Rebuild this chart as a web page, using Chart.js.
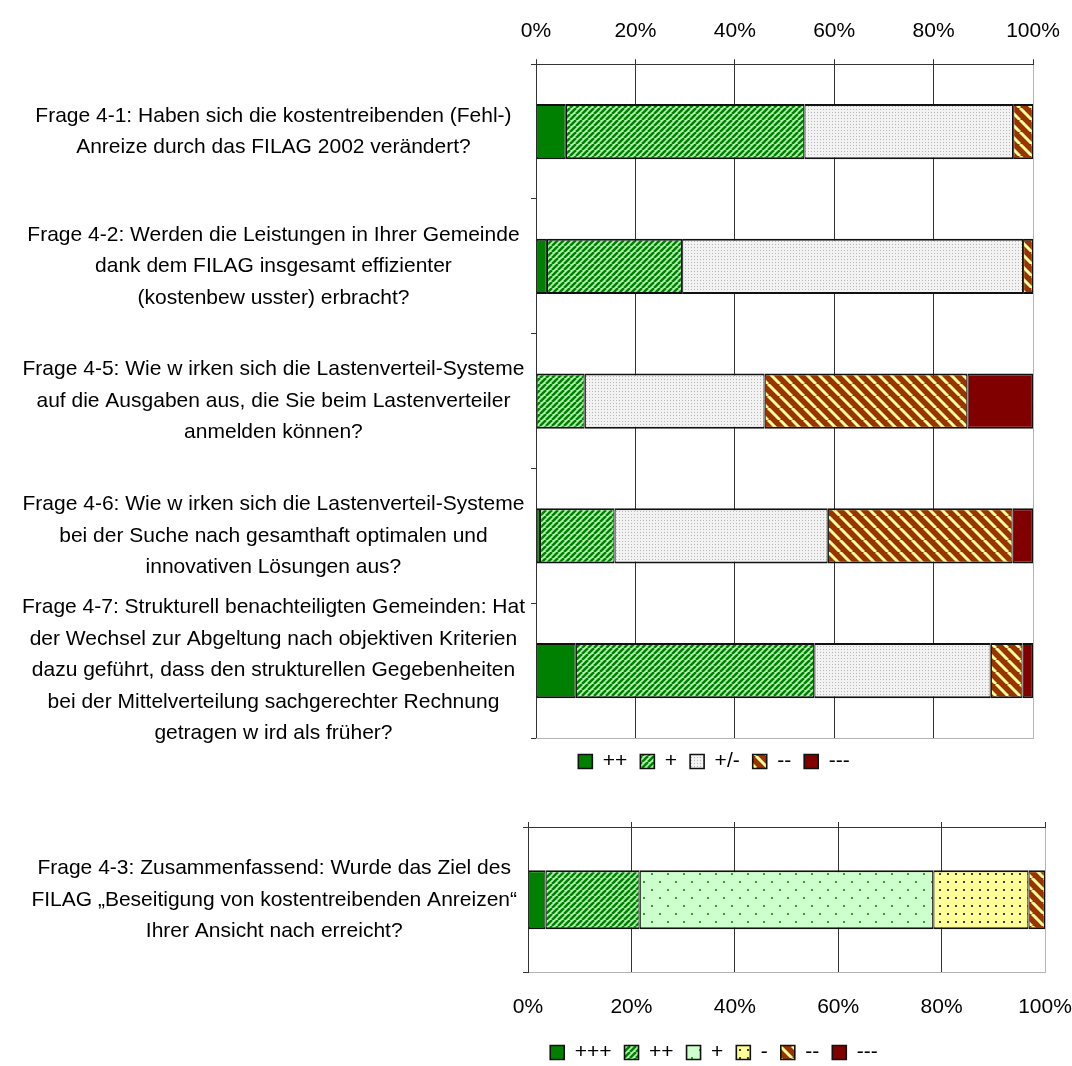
<!DOCTYPE html>
<html>
<head>
<meta charset="utf-8">
<script src="https://cdn.jsdelivr.net/npm/chart.js@4.4.0/dist/chart.umd.min.js"></script>
<style>
  body { margin: 0; background: #fff; overflow: hidden; }
  #grafikOben { position: absolute; left: 0; top: 0; }
  #grafikUnten { position: absolute; left: 0; top: 782px; }
</style>
</head>
<body>
<canvas id="grafikOben" width="1072" height="782"></canvas>
<canvas id="grafikUnten" width="1072" height="291"></canvas>
<script>
// Fragen (oberes Diagramm)
const fragen = [
    ['Frage 4-1: Haben sich die kostentreibenden (Fehl-)', 'Anreize durch das FILAG 2002 verändert?'],
    ['Frage 4-2: Werden die Leistungen in Ihrer Gemeinde', 'dank dem FILAG insgesamt effizienter', '(kostenbew usster) erbracht?'],
    ['Frage 4-5: Wie w irken sich die Lastenverteil-Systeme', 'auf die Ausgaben aus, die Sie beim Lastenverteiler', 'anmelden können?'],
    ['Frage 4-6: Wie w irken sich die Lastenverteil-Systeme', 'bei der Suche nach gesamthaft optimalen und', 'innovativen Lösungen aus?'],
    ['Frage 4-7: Strukturell benachteiligten Gemeinden: Hat', 'der Wechsel zur Abgeltung nach objektiven Kriterien', 'dazu geführt, dass den strukturellen Gegebenheiten', 'bei der Mittelverteilung sachgerechter Rechnung', 'getragen w ird als früher?']
];
const stufenOben = ['++', '+', '+/-', '--', '---'];
const plusPlus = [6, 2.2, 0, 0.8, 8];
const plus = [48, 27.2, 9.8, 15, 48];
const neutral = [42, 68.6, 36.2, 42.9, 35.5];
const minusMinus = [4, 2, 40.8, 37.2, 6.4];
const minus3 = [0, 0, 13.2, 4.1, 2.1];

// Frage 4-3 (unteres Diagramm)
const frage43 = [['Frage 4-3: Zusammenfassend: Wurde das Ziel des', 'FILAG „Beseitigung von kostentreibenden Anreizen“', 'Ihrer Ansicht nach erreicht?']];
const stufenUnten = ['+++', '++', '+', '-', '--', '---'];
const werte43 = [3.4, 18.2, 56.8, 18.4, 3.2, 0];

const prozentTicks = [0, 20, 40, 60, 80, 100];

Chart.defaults.font.family = "'Liberation Sans', Arial, sans-serif";
Chart.defaults.color = '#000';

// Muster wie in Excel
function muster(w, h, zeichnen) {
    const c = document.createElement('canvas');
    c.width = w; c.height = h;
    const g = c.getContext('2d');
    zeichnen(g, w, h);
    return g.createPattern(c, 'repeat');
}
const gruenSchraeg = muster(6, 6, (g, w, h) => {
    g.fillStyle = '#b4f0b4'; g.fillRect(0, 0, w, h);
    g.strokeStyle = '#008000'; g.lineWidth = 2.5;
    for (let k = -1; k <= 1; k++) { g.beginPath(); g.moveTo(k * w, h); g.lineTo(k * w + w, 0); g.stroke(); }
});
const braunSchraeg = muster(12, 12, (g, w, h) => {
    g.fillStyle = '#993300'; g.fillRect(0, 0, w, h);
    g.strokeStyle = '#ffff99'; g.lineWidth = 3;
    for (let k = -1; k <= 1; k++) { g.beginPath(); g.moveTo(k * w, 0); g.lineTo(k * w + w, h); g.stroke(); }
});
const grauPunkte = muster(3, 3, (g, w, h) => {
    g.fillStyle = '#f2f2f2'; g.fillRect(0, 0, w, h);
    g.fillStyle = '#b8b8b8'; g.fillRect(1, 1, 1, 1);
});
const hellgruenPunkte = muster(16, 16, (g, w, h) => {
    g.fillStyle = '#ccffcc'; g.fillRect(0, 0, w, h);
    g.fillStyle = '#30a030'; g.fillRect(3, 3, 2, 2); g.fillRect(11, 11, 2, 2);
});
const gelbPunkte = muster(8, 8, (g, w, h) => {
    g.fillStyle = '#ffff99'; g.fillRect(0, 0, w, h);
    g.fillStyle = '#444'; g.fillRect(3, 3, 2, 2);
});

const rand = { top: 2, bottom: 2, left: 1.2, right: 1.2 };
function datensatz(label, data, farbe) {
    return { label: label, data: data, backgroundColor: farbe, borderColor: '#111', borderWidth: rand, borderSkipped: false };
}

// Legende etwas nach links schieben (wie im Original)
const legendeVerschieben = {
    id: 'legendeVerschieben',
    afterLayout(chart) {
        const lg = chart.legend;
        lg.left = 2 * 714 - lg.right;
    }
};
const rahmenUnten = {
    id: 'rahmenUnten',
    afterDatasetsDraw(chart) {
        const { ctx, chartArea: a } = chart;
        ctx.save();
        ctx.strokeStyle = '#b4b4b4';
        ctx.lineWidth = 1;
        ctx.beginPath();
        ctx.moveTo(a.left, Math.round(a.bottom) + 0.5);
        ctx.lineTo(a.right + 1, Math.round(a.bottom) + 0.5);
        ctx.stroke();
        ctx.restore();
    }
};

const legendeOptionen = {
    position: 'bottom',
    labels: { boxWidth: 14, boxHeight: 14, padding: 13, font: { size: 21 }, color: '#000' }
};
const gitterFarbe = ctx => (ctx.tick && ctx.tick.value === 100 ? '#b4b4b4' : '#333');
const ohnePolster = s => { s.paddingLeft = 0; s.paddingRight = 0; s.paddingTop = 0; s.paddingBottom = 0; };

new Chart(document.getElementById('grafikOben'), {
    type: 'bar',
    data: {
        labels: fragen,
        datasets: [
            datensatz(stufenOben[0], plusPlus, '#008000'),
            datensatz(stufenOben[1], plus, gruenSchraeg),
            datensatz(stufenOben[2], neutral, grauPunkte),
            datensatz(stufenOben[3], minusMinus, braunSchraeg),
            datensatz(stufenOben[4], minus3, '#800000')
        ]
    },
    options: {
        indexAxis: 'y',
        responsive: false,
        animation: false,
        barPercentage: 0.41,
        categoryPercentage: 1,
        layout: { padding: { top: 4, right: 39, left: 0, bottom: 0 } },
        scales: {
            x: {
                position: 'top',
                stacked: true,
                min: 0, max: 100,
                afterBuildTicks: s => { s.ticks = prozentTicks.map(v => ({ value: v })); },
                afterFit: ohnePolster,
                ticks: { callback: v => v + '%', padding: 15, font: { size: 21 } },
                grid: { color: gitterFarbe, tickColor: '#333', tickLength: 5 },
                border: { color: '#333' }
            },
            y: {
                stacked: true,
                afterFit: s => { ohnePolster(s); s.width = 536; },
                ticks: { autoSkip: false, crossAlign: 'center', padding: 6, font: { size: 21, lineHeight: 1.5 } },
                grid: { drawOnChartArea: false, offset: true, tickLength: 5, tickColor: '#333' },
                border: { color: '#333' }
            }
        },
        plugins: { legend: legendeOptionen, tooltip: { enabled: false } }
    },
    plugins: [legendeVerschieben, rahmenUnten]
});

new Chart(document.getElementById('grafikUnten'), {
    type: 'bar',
    data: {
        labels: frage43,
        datasets: [
            datensatz(stufenUnten[0], [werte43[0]], '#008000'),
            datensatz(stufenUnten[1], [werte43[1]], gruenSchraeg),
            datensatz(stufenUnten[2], [werte43[2]], hellgruenPunkte),
            datensatz(stufenUnten[3], [werte43[3]], gelbPunkte),
            datensatz(stufenUnten[4], [werte43[4]], braunSchraeg),
            datensatz(stufenUnten[5], [werte43[5]], '#800000')
        ]
    },
    options: {
        indexAxis: 'y',
        responsive: false,
        animation: false,
        barPercentage: 0.405,
        categoryPercentage: 1,
        layout: { padding: { top: 40, right: 27, left: 0, bottom: 0 } },
        scales: {
            x: {
                position: 'bottom',
                stacked: true,
                min: 0, max: 100,
                afterBuildTicks: s => { s.ticks = prozentTicks.map(v => ({ value: v })); },
                afterFit: s => { ohnePolster(s); s.height = 56.5; },
                ticks: { callback: v => v + '%', padding: 22, font: { size: 21 } },
                grid: { color: gitterFarbe, drawTicks: false },
                border: { color: '#b4b4b4' }
            },
            x2: {
                position: 'top',
                min: 0, max: 100,
                afterBuildTicks: s => { s.ticks = prozentTicks.map(v => ({ value: v })); },
                afterFit: ohnePolster,
                ticks: { display: false },
                grid: { drawOnChartArea: false, tickLength: 5, tickColor: '#333' },
                border: { color: '#333' }
            },
            y: {
                stacked: true,
                afterFit: s => { ohnePolster(s); s.width = 528; },
                ticks: { autoSkip: false, crossAlign: 'center', padding: 6, font: { size: 21, lineHeight: 1.5 } },
                grid: { drawOnChartArea: false, offset: true, tickLength: 5, tickColor: '#333' },
                border: { color: '#333' }
            }
        },
        plugins: { legend: legendeOptionen, tooltip: { enabled: false } }
    },
    plugins: [legendeVerschieben]
});
</script>
</body>
</html>
